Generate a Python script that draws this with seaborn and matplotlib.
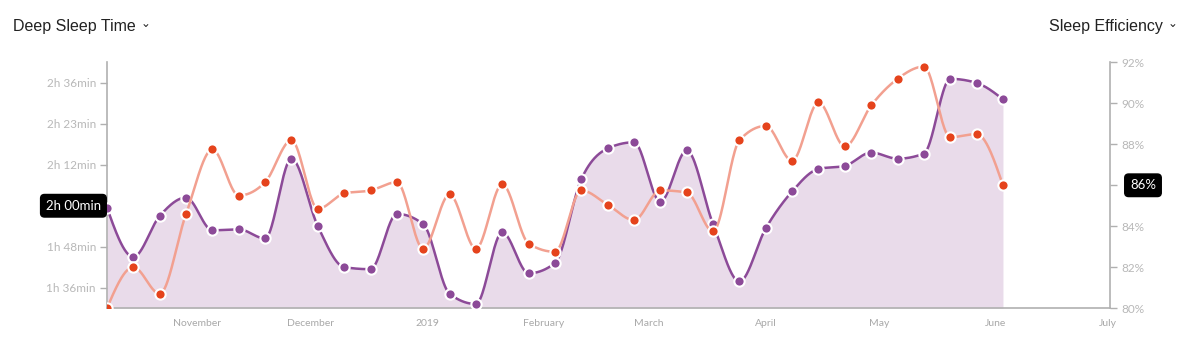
import numpy as np
import pandas as pd
import matplotlib
matplotlib.use("Agg")
import matplotlib.pyplot as plt
import matplotlib.dates as mdates
import seaborn as sns

# weekly values, Oct 2018 - Jun 2019
start_date = "2018-10-08"
deep_sleep_h = [1.99, 1.75, 1.95, 2.04, 1.88, 1.885, 1.84, 2.23, 1.90, 1.70,
                1.69, 1.96, 1.91, 1.57, 1.52, 1.87, 1.67, 1.72, 2.13, 2.28,
                2.31, 2.02, 2.27, 1.91, 1.63, 1.89, 2.07, 2.18, 2.195, 2.26,
                2.23, 2.255, 2.62, 2.60, 2.52]
efficiency = [80.0, 82.0, 80.7, 84.6, 87.75, 85.5, 86.15, 88.2, 84.85, 85.6,
              85.75, 86.15, 82.9, 85.55, 82.9, 86.05, 83.15, 82.75, 85.75, 85.05,
              84.3, 85.75, 85.65, 83.75, 88.2, 88.9, 87.2, 90.05, 87.9, 89.9,
              91.2, 91.8, 88.35, 88.5, 86.0]

left_ticks = [1.6, 1.8, 2.0, 2.2, 2.4, 2.6]
left_labels = ["1h 36min", "1h 48min", "", "2h 12min", "2h 23min", "2h 36min"]
right_ticks = [80, 82, 84, 86, 88, 90, 92]
right_labels = ["80%", "82%", "84%", "", "88%", "90%", "92%"]
month_ticks = ["2018-11-01", "2018-12-01", "2019-01-01", "2019-02-01", "2019-03-01",
               "2019-04-01", "2019-05-01", "2019-06-01", "2019-07-01"]
month_labels = ["November", "December", "2019", "February", "March", "April",
                "May", "June", "July"]
left_badge = "2h 00min"
right_badge = "86%"

PURPLE = "#8c4a98"
FILL = "#e9dbea"
SALMON = "#f2a090"
RED = "#e5431c"
GREY = "#b0b0b0"


def monotone_x(x, y, n=40):
    # d3 curveMonotoneX style interpolation
    x = np.asarray(x, float)
    y = np.asarray(y, float)
    h = np.diff(x)
    s = np.diff(y) / h
    t = np.zeros_like(y)
    for i in range(1, len(y) - 1):
        p = (s[i - 1] * h[i] + s[i] * h[i - 1]) / (h[i - 1] + h[i])
        t[i] = (np.sign(s[i - 1]) + np.sign(s[i])) * min(abs(s[i - 1]), abs(s[i]), 0.5 * abs(p))
    t[0] = (3 * s[0] - t[1]) / 2
    t[-1] = (3 * s[-1] - t[-2]) / 2
    xs, ys = [], []
    for i in range(len(h)):
        u = np.linspace(0, 1, n, endpoint=(i == len(h) - 1))
        h00 = 2 * u**3 - 3 * u**2 + 1
        h10 = u**3 - 2 * u**2 + u
        h01 = -2 * u**3 + 3 * u**2
        h11 = u**3 - u**2
        xs.append(x[i] + u * h[i])
        ys.append(h00 * y[i] + h10 * h[i] * t[i] + h01 * y[i + 1] + h11 * h[i] * t[i + 1])
    return np.concatenate(xs), np.concatenate(ys)


dates = pd.date_range(start_date, periods=len(deep_sleep_h), freq="7D")
xnum = mdates.date2num(dates)
df = pd.DataFrame({"date": xnum, "deep": deep_sleep_h, "eff": efficiency})

dx, dy = monotone_x(xnum, deep_sleep_h)
ex, ey = monotone_x(xnum, efficiency)
deep_curve = pd.DataFrame({"x": dx, "y": dy})
eff_curve = pd.DataFrame({"x": ex, "y": ey})

sns.set_style("white")
plt.rcParams["font.family"] = ["Lato", "DejaVu Sans"]

fig = plt.figure(figsize=(11.89, 3.57), dpi=100)
ax = fig.add_axes([0.09, 0.137, 0.8435, 0.688])
ax2 = ax.twinx()

ax.fill_between(dx, dy, 1.5, color=FILL, lw=0, zorder=1)
sns.lineplot(data=deep_curve, x="x", y="y", ax=ax, color=PURPLE, lw=1.8, zorder=2, sort=False)
sns.scatterplot(data=df, x="date", y="deep", ax=ax, color=PURPLE, s=55,
                edgecolor="white", linewidth=1.5, zorder=3)

sns.lineplot(data=eff_curve, x="x", y="y", ax=ax2, color=SALMON, lw=1.8, zorder=2, sort=False)
sns.scatterplot(data=df, x="date", y="eff", ax=ax2, color=RED, s=55,
                edgecolor="white", linewidth=1.5, zorder=3)

xmin = mdates.date2num(pd.Timestamp(start_date))
xmax = mdates.date2num(pd.Timestamp("2019-07-01 10:00"))
ax.set_xlim(xmin, xmax)
ax.set_ylim(1.5, 2.7)
ax2.set_ylim(80, 92)

ax.set_xticks(mdates.date2num(pd.to_datetime(month_ticks)))
ax.set_xticklabels(month_labels)
ax.set_yticks(left_ticks)
ax.set_yticklabels(left_labels)
ax2.set_yticks(right_ticks)
ax2.set_yticklabels(right_labels)

for a in (ax, ax2):
    a.set_xlabel("")
    a.set_ylabel("")
    a.spines["top"].set_visible(False)
    for sp in ("left", "right", "bottom"):
        a.spines[sp].set_color(GREY)
        a.spines[sp].set_linewidth(1.2)
ax.spines["right"].set_visible(False)
ax2.spines["left"].set_visible(False)
ax2.spines["bottom"].set_visible(False)

ax.tick_params(axis="x", length=5, width=1, color=GREY, labelcolor="#a8a8a8",
               labelsize=7.5, pad=3)
ax.tick_params(axis="y", length=5, width=1, color=GREY, labelcolor="#b8b8b8",
               labelsize=8.5, pad=3, left=True)
ax2.tick_params(axis="y", length=5, width=1, color=GREY, labelcolor="#b8b8b8",
                labelsize=8.5, pad=3, right=True)

# value badges
badge = dict(boxstyle="round,pad=0.4,rounding_size=0.3", fc="black", ec="black")
ax.annotate(left_badge, xy=(-0.006, 2.0), xycoords=("axes fraction", "data"),
            ha="right", va="center", color="white", fontsize=9.5,
            bbox=badge, zorder=10, annotation_clip=False)
ax2.annotate(right_badge, xy=(1.02, efficiency[-1]), xycoords=("axes fraction", "data"),
             ha="left", va="center", color="white", fontsize=9.5,
             bbox=badge, zorder=10, annotation_clip=False)

# titles with dropdown chevrons
t1 = fig.text(0.011, 0.925, "Deep Sleep Time", ha="left", va="center", fontsize=11.5,
              color="#222222", family=["Liberation Sans", "DejaVu Sans"])
t2 = fig.text(0.978, 0.925, "Sleep Efficiency", ha="right", va="center", fontsize=11.5,
              color="#222222", family=["Liberation Sans", "DejaVu Sans"])
for t in (t1, t2):
    ax.annotate("\u2304", xy=(1, 0.5), xycoords=t, xytext=(3.5, 2.2), textcoords="offset points",
                ha="left", va="center", fontsize=8.5, color="#222222",
                family=["DejaVu Sans"], annotation_clip=False)

fig.savefig("out.png", dpi=100)
